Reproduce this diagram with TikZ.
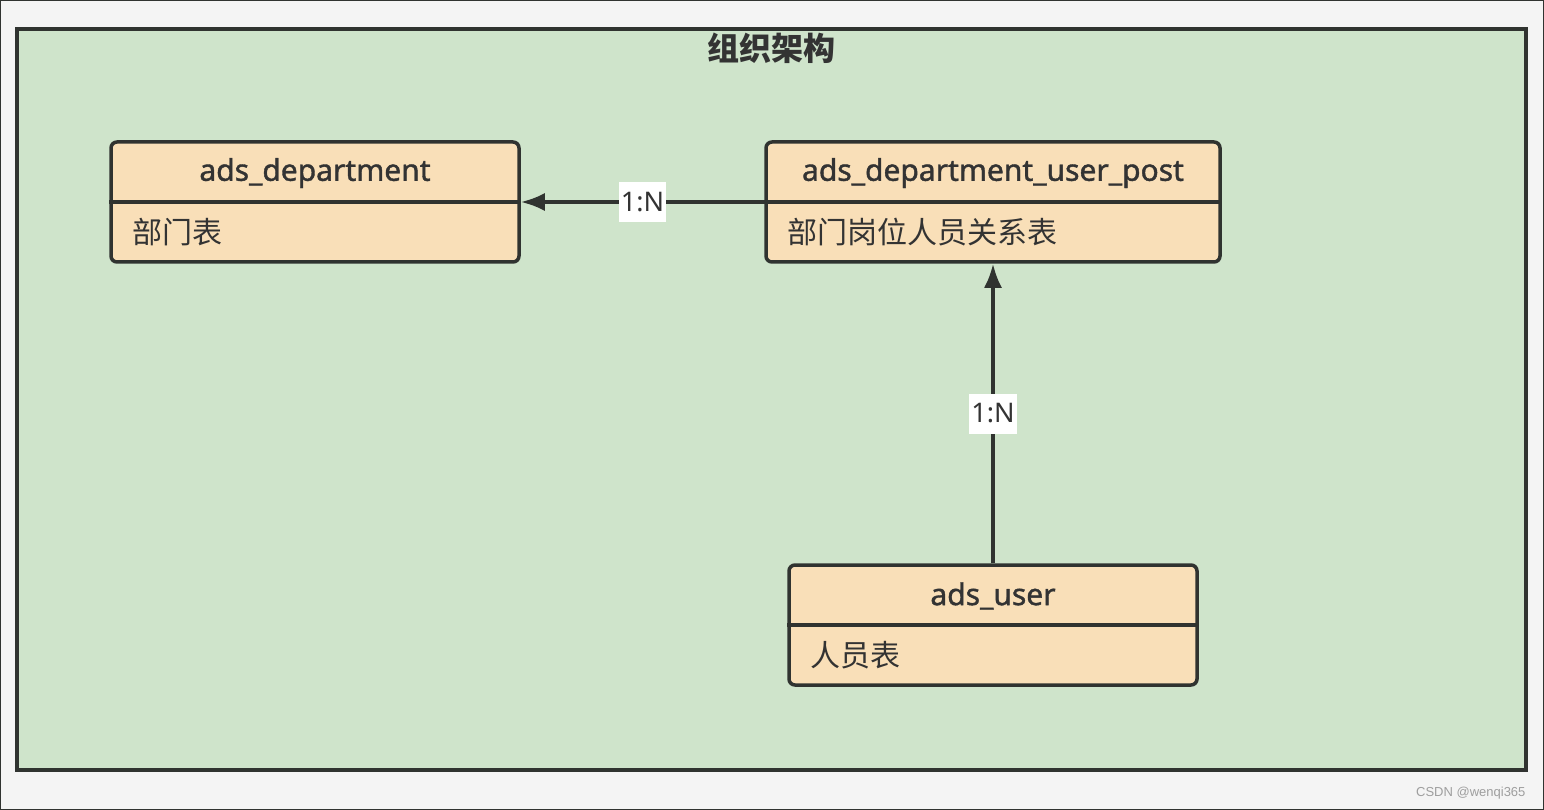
\documentclass[tikz,border=0pt]{standalone}
\usepackage{fontspec}
\setmainfont{Noto Sans}
\newfontfamily\headfont{Noto Sans}[FakeBold=1.3]
\newfontfamily\cjk{Noto Sans CJK SC}
\newfontfamily\wmfont{Liberation Sans}
\usetikzlibrary{arrows.meta}
\definecolor{pagebg}{HTML}{F4F4F4}
\definecolor{edge}{HTML}{303330}
\definecolor{grp}{HTML}{CFE4CB}
\definecolor{tblfill}{HTML}{F9DFB8}
\definecolor{txt}{HTML}{333333}
\tikzset{
  tbl/.style={draw=edge, fill=tblfill, line width=3.5pt, rounded corners=6pt, inner sep=0pt},
  divider/.style={draw=edge, line width=3.5pt},
  head/.style={font=\fontsize{30}{34}\selectfont\headfont, text=txt, anchor=center},
  body/.style={font=\fontsize{30}{34}\selectfont\cjk, text=txt, anchor=west},
  conn/.style={draw=edge, line width=3.5pt, -{Latex[length=24pt,width=18pt]}},
  lbl/.style={fill=white, text=txt, font=\fontsize{27}{30}\selectfont, inner sep=2pt, minimum height=40pt}
}
\begin{document}
\begin{tikzpicture}[x=1pt,y=-1pt]
\useasboundingbox (0,0) rectangle (1544,810);
\fill[pagebg] (0,0) rectangle (1544,810);
\draw[edge, line width=2.5pt] (0,0) rectangle (1544,810);
% group container
\draw[draw=edge, fill=grp, line width=4pt] (17,29) rectangle (1526,770);
\node[font=\fontsize{32}{36}\selectfont\cjk\bfseries, text=txt] (title) at (771,48) {组织架构};
% tables
\node[tbl, minimum width=408pt, minimum height=120pt] (dept) at (315,202) {};
\draw[divider] (dept.west) -- (dept.east);
\node[head] (deptH) at (315,173) {ads\_department};
\node[body] (deptB) at (129,232) {部门表};

\node[tbl, minimum width=454pt, minimum height=120pt] (post) at (993,202) {};
\draw[divider] (post.west) -- (post.east);
\node[head] (postH) at (993,173) {ads\_department\_user\_post};
\node[body] (postB) at (784,232) {部门岗位人员关系表};

\node[tbl, minimum width=408pt, minimum height=120pt] (user) at (993,625) {};
\draw[divider] (user.west) -- (user.east);
\node[head] (userH) at (993,596) {ads\_user};
\node[body] (userB) at (807,655) {人员表};
% connectors
\draw[conn] (post.west) -- node[lbl] (l1) {1:N} (dept.east);
\draw[conn] (user.north) -- node[lbl] (l2) {1:N} (post.south);
% watermark
\node[font=\fontsize{13}{15}\selectfont\wmfont, text=black!38, anchor=east] (wm) at (1529,793) {CSDN @wenqi365};
\end{tikzpicture}
\end{document}
